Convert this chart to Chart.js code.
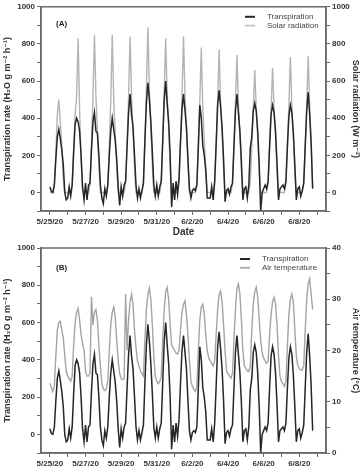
<!DOCTYPE html>
<html><head><meta charset="utf-8">
<script src="https://cdn.jsdelivr.net/npm/chart.js@4/dist/chart.umd.min.js"></script>
<style>
html,body{margin:0;padding:0;background:#fff;width:362px;height:470px;overflow:hidden}
.wrap{position:absolute;left:0;width:362px}
</style></head><body>
<div class="wrap" style="top:0;height:238px"><canvas id="cA" width="362" height="238"></canvas></div>
<div class="wrap" style="top:240px;height:230px"><canvas id="cB" width="362" height="230"></canvas></div>
<script>
// Sampling: every 2 h from 5/25/20 00:00 (day 0) to 6/8/20 18:00
const stepHours = 2;
const dateTickLabels = ['5/25/20','','5/27/20','','5/29/20','','5/31/20','','6/2/20','','6/4/20','','6/6/20','','6/8/20',''];
// Transpiration rate (H2O g m-2 h-1)
const transpiration = [
  30,5,0,40,180,300,340,290,230,150,0,-40,
  -30,30,-20,40,220,370,400,380,330,200,30,-40,
  50,-40,40,50,230,380,430,330,320,200,40,-30,
  -60,20,-20,40,200,330,400,340,280,180,30,-70,
  30,-20,40,60,250,430,530,420,350,200,40,-30,
  20,-30,10,50,280,480,590,500,380,220,40,-20,
  40,-20,30,60,280,500,600,480,380,200,-80,50,
  -40,60,-10,80,280,450,530,440,350,180,20,-30,
  10,20,10,40,250,470,400,250,200,120,-30,-30,
  -30,30,-40,60,260,470,550,460,350,180,-50,10,
  20,-10,30,50,250,440,530,430,330,170,-40,20,
  30,-30,40,240,300,440,480,440,330,150,-100,0,
  20,40,20,60,250,420,470,430,330,160,-40,20,
  30,40,20,60,250,410,470,430,320,150,-40,20,
  30,-20,10,50,250,440,540,420,260,20
];
// Solar radiation (W m-2)
const solarRadiation = [
  0,0,0,40,220,420,500,380,250,80,0,0,
  0,0,0,40,220,420,520,830,450,180,10,0,
  0,0,0,40,250,520,850,520,330,150,0,0,
  0,0,0,40,240,500,850,500,320,130,0,0,
  0,0,0,50,260,520,840,520,330,140,0,0,
  0,0,0,50,280,560,890,560,360,150,0,0,
  0,0,0,50,270,540,830,520,340,140,0,0,
  0,0,0,50,270,520,840,530,340,140,0,0,
  0,0,0,40,260,500,780,450,280,120,0,0,
  0,0,0,50,260,500,770,480,320,130,0,0,
  0,0,0,50,250,480,740,470,300,120,0,0,
  0,0,0,50,240,450,660,450,290,110,0,0,
  0,0,0,50,240,450,670,450,300,110,0,0,
  0,0,0,50,250,470,730,460,300,110,0,0,
  0,0,0,50,250,470,735,460,280,30
];
// Air temperature (°C)
const airTemperature = [
  13.6,12.8,12,13,19,24,25.5,25.7,24,22.5,19,16,
  15,14.5,14,15,21,25.5,27.5,28.2,26,23,21.5,20,
  16,15,15,15.5,30.5,25,27.5,28,26,21,17,13.5,
  12.5,12.2,12.5,14,20,25,27.5,28.5,26.5,22,18,15.5,
  14.5,14.3,14.5,31,20,26,29.5,31,29,24,20.5,18,
  17,16,15.5,15,22,28,31,32.2,30,25,19,15,
  14,13.5,13.9,15,22,28,31.5,32.3,30,25,21,20.5,
  20,19.5,19.3,20,24,27.5,29,29.7,27,23,18,14,
  13,12.3,12,13,20,26,28.5,29,27,23,20,18.5,
  18,17.5,17,18,23,28,31,31.6,29.5,25,20,16,
  15.5,15,14.6,15.5,22,28,32,33,31,26,20,17,
  16.5,16,15.9,17,24,29,31.5,32.4,30.5,26,22,19.5,
  18.5,18,17.5,18,23,27,29.5,30.4,29,25,19,15,
  14,13.5,13,14,21,27,30,31,29.5,24,19,17,
  16.5,16.2,16.2,17,24,30,33,34,31,28
];

const toPts = arr => arr.map((v, i) => ({x: i * stepHours / 24, y: v}));
const FONT = "'Liberation Sans', Arial, 'DejaVu Sans', sans-serif";
const AXC = '#6a6a6a', TXT = '#333';

const framePlugin = {
  id: 'frame',
  afterDraw(chart, args, o) {
    const {ctx, chartArea: a} = chart;
    ctx.save();
    ctx.strokeStyle = AXC; ctx.lineWidth = 1.5;
    ctx.strokeRect(a.left, a.top, a.right - a.left, a.bottom - a.top);
    ctx.fillStyle = '#222';
    ctx.font = "bold 8px " + FONT;
    ctx.textBaseline = 'middle';
    ctx.fillText(o.label, a.left + 15, a.top + o.labelDy);
    ctx.font = "8px " + FONT;
    o.items.forEach((it, k) => {
      const y = a.top + o.legDy + k * 8.8;
      ctx.strokeStyle = it.color; ctx.lineWidth = 2;
      ctx.beginPath(); ctx.moveTo(o.legX, y); ctx.lineTo(o.legX + 10, y); ctx.stroke();
      ctx.fillStyle = '#444';
      ctx.fillText(it.text, o.legX + 22, y);
    });
    ctx.restore();
  }
};

function xAxis(showTitle, h) {
  return {
    type: 'linear', min: -0.5, max: 15.5,
    afterBuildTicks: s => { s.ticks = dateTickLabels.map((_, d) => ({value: d})); },
    afterFit: s => { s.height = h; },
    ticks: { autoSkip: false, maxRotation: 0, padding: 2, color: TXT,
      font: {family: FONT, size: 8, weight: 'bold'},
      callback: v => dateTickLabels[Math.round(v)] },
    grid: { drawOnChartArea: false, tickLength: 4, color: AXC, lineWidth: 1 },
    border: { color: AXC, width: 1.5 },
    title: { display: showTitle, text: 'Date', color: TXT, padding: {top: 1, bottom: 0},
      font: {family: FONT, size: 10, weight: 'bold'} }
  };
}
function yAxis(pos, min, max, step, lab, title, w, tpad) {
  return {
    position: pos, min: min, max: max,
    afterFit: s => { s.width = w; },
    ticks: { stepSize: step, padding: 2, color: TXT,
      font: {family: FONT, size: 8, weight: 'bold'},
      callback: v => (v >= 0 && v % lab === 0) ? String(v) : '' },
    grid: { drawOnChartArea: false, tickLength: 4, color: AXC, lineWidth: 1 },
    border: { color: AXC, width: 1.5 },
    title: { display: true, text: title, color: TXT, padding: {top: tpad, bottom: 0},
      font: {family: FONT, size: 9, weight: 'bold'} }
  };
}
const leftTitle = 'Transpiration rate (H\u2082O g m\u207B\u00B2 h\u207B\u00B9)';

new Chart(document.getElementById('cA'), {
  type: 'line',
  data: { datasets: [
    { label: 'Transpiration', data: toPts(transpiration), yAxisID: 'y', borderColor: '#262626', borderWidth: 1.5, pointRadius: 0, order: 1 },
    { label: 'Solar radiation', data: toPts(solarRadiation), yAxisID: 'y2', borderColor: '#b4b4b4', borderWidth: 1.4, pointRadius: 0, order: 2 }
  ]},
  options: {
    responsive: false, animation: false, devicePixelRatio: 1,
    layout: { padding: {top: 6, left: 0, right: 0, bottom: 0} },
    plugins: { legend: {display: false}, tooltip: {enabled: false},
      frame: { label: '(A)', labelDy: 17, legX: 245, legDy: 10,
        items: [{text: 'Transpiration', color: '#262626'}, {text: 'Solar radiation', color: '#c8c8c8'}] } },
    scales: {
      x: xAxis(true, 27),
      y: yAxis('left', -100, 1000, 100, 200, leftTitle, 41, 2),
      y2: yAxis('right', -100, 1000, 100, 200, 'Solar radiation (W m\u207B\u00B2)', 36, 1)
    }
  },
  plugins: [framePlugin]
});

new Chart(document.getElementById('cB'), {
  type: 'line',
  data: { datasets: [
    { label: 'Transpiration', data: toPts(transpiration), yAxisID: 'y', borderColor: '#262626', borderWidth: 1.5, pointRadius: 0, order: 1 },
    { label: 'Air temperature', data: toPts(airTemperature), yAxisID: 'y2', borderColor: '#a4a4a4', borderWidth: 1.4, pointRadius: 0, order: 2 }
  ]},
  options: {
    responsive: false, animation: false, devicePixelRatio: 1,
    layout: { padding: {top: 8, left: 0, right: 0, bottom: 0} },
    plugins: { legend: {display: false}, tooltip: {enabled: false},
      frame: { label: '(B)', labelDy: 20, legX: 240, legDy: 11,
        items: [{text: 'Transpiration', color: '#262626'}, {text: 'Air temperature', color: '#b0b0b0'}] } },
    scales: {
      x: xAxis(false, 17),
      y: yAxis('left', -100, 1000, 100, 200, leftTitle, 41, 2),
      y2: yAxis('right', 0, 40, 5, 10, 'Air temperature (\u00B0C)', 36, 1)
    }
  },
  plugins: [framePlugin]
});
</script>
</body></html>
